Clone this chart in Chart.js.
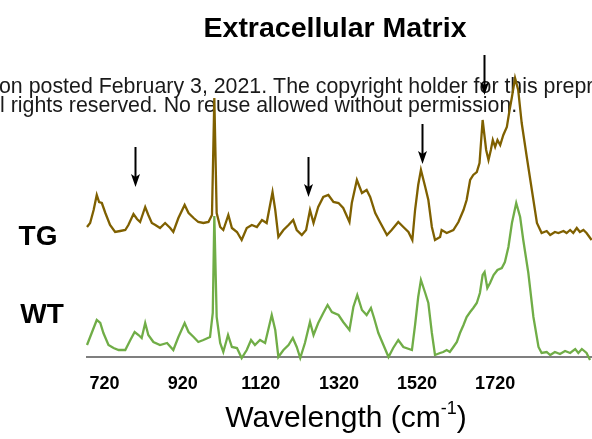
<!DOCTYPE html>
<html><head><meta charset="utf-8">
<script src="https://cdn.jsdelivr.net/npm/chart.js@4"></script>
<style>html,body{margin:0;padding:0;background:#fff}#wrap{width:592px;height:439px;position:relative}</style>
</head><body><div id="wrap"><canvas id="c" width="592" height="439"></canvas></div>
<script>
const chartTitle = "Extracellular Matrix";
const xAxisTitle = "Wavelength (cm";
const xAxisTitleSup = "-1";
const xAxisTitleEnd = ")";
const tickValues = [720, 920, 1120, 1320, 1520, 1720];
const seriesNames = ["TG", "WT"];
const watermarkLines = [
  "on posted February 3, 2021. The copyright holder for this preprint",
  "l rights reserved. No reuse allowed without permission."
];

const tgWavenumber = [675,683,692,700,706,713,722,734,747,760,773,781,794,803,811,824,832,841,850,862,875,888,896,909,925,935,948,960,973,986,995,1001,1007,1016,1024,1037,1046,1059,1071,1084,1097,1110,1123,1135,1150,1157,1165,1178,1191,1203,1212,1225,1236,1246,1255,1267,1280,1293,1306,1319,1331,1347,1353,1366,1379,1391,1400,1413,1425,1443,1455,1472,1485,1498,1508,1515,1523,1530,1541,1549,1558,1566,1579,1583,1596,1613,1626,1639,1647,1656,1664,1673,1680,1688,1697,1703,1709,1714,1720,1726,1733,1741,1750,1757,1763,1771,1779,1788,1801,1814,1827,1839,1852,1861,1873,1882,1895,1903,1912,1920,1929,1937,1946,1954,1967];
const tgIntensity = [130,134,147,162,155,154,144,132,125,126,127,132,143,138,135,150,142,134,132,129,134,129,125,139,152,144,139,135,134,135,142,259,144,130,127,142,129,125,117,129,132,130,137,134,165,147,120,127,132,137,127,122,127,147,134,150,160,162,155,154,149,135,154,177,164,167,160,144,135,122,127,135,130,125,117,147,172,187,170,157,130,117,120,127,124,127,135,147,157,177,182,185,194,237,207,197,207,217,210,217,212,222,230,247,260,279,267,234,200,167,134,124,126,122,125,124,126,124,127,124,129,125,127,124,117];

const wtWavenumber = [675,687,700,709,717,730,743,756,773,786,797,807,815,824,832,845,862,880,896,909,925,935,948,960,973,990,997,1001,1007,1016,1024,1036,1046,1059,1071,1084,1095,1105,1118,1131,1148,1157,1165,1178,1191,1202,1212,1221,1233,1246,1255,1267,1280,1291,1302,1319,1331,1347,1357,1367,1379,1391,1402,1410,1421,1434,1447,1459,1472,1485,1507,1515,1523,1530,1541,1549,1558,1566,1579,1587,1596,1604,1613,1622,1630,1639,1647,1656,1664,1673,1681,1688,1693,1700,1707,1716,1726,1737,1745,1754,1763,1774,1784,1792,1805,1818,1831,1839,1852,1861,1873,1886,1899,1912,1925,1933,1942,1954,1963];
const wtIntensity = [12,24,37,34,24,12,9,7,7,17,25,22,19,34,22,15,12,14,7,20,34,25,20,15,17,20,44,141,40,14,5,22,10,9,-1,7,17,12,17,14,42,27,0,7,12,19,10,-1,14,35,22,34,44,52,45,42,35,27,50,62,47,42,49,39,24,12,0,9,17,10,7,32,60,77,64,54,24,2,4,5,7,5,10,15,24,32,40,45,49,54,64,82,85,69,74,82,87,89,95,110,134,154,140,117,84,40,10,4,5,2,5,3,6,4,8,4,8,4,-3];

const arrowWavenumber = [798, 1242, 1532, 1692];
const arrowTipIntensity = [170, 160, 193, 262];
const arrowLength = 40;

const toPoints = (xs, ys) => xs.map((x, i) => ({x: x, y: ys[i]}));
const FAM = '"Liberation Sans", Arial, sans-serif';

const decorPlugin = {
  id: 'decor',
  beforeDatasetsDraw(chart) {
    const ctx = chart.ctx;
    ctx.save();
    ctx.fillStyle = '#1a1a1a';
    ctx.font = '21.35px ' + FAM;
    ctx.textBaseline = 'alphabetic';
    ctx.textAlign = 'left';
    ctx.fillText(watermarkLines[0], -1, 93);
    ctx.fillText(watermarkLines[1], 0, 112);
    ctx.restore();
  },
  afterDraw(chart) {
    const ctx = chart.ctx;
    const xs = chart.scales.x, ys = chart.scales.y;
    ctx.save();
    ctx.fillStyle = '#000';
    ctx.textAlign = 'center';
    ctx.textBaseline = 'middle';
    ctx.font = 'bold 28.5px ' + FAM;
    ctx.fillText(chartTitle, 335, 29);
    ctx.font = 'bold 28px ' + FAM;
    ctx.fillText(seriesNames[0], 38, 237);
    ctx.fillText(seriesNames[1], 42, 315);
    ctx.textAlign = 'left';
    ctx.textBaseline = 'alphabetic';
    const fMain = '30px ' + FAM;
    const fSup = '18px ' + FAM;
    ctx.font = fMain;
    const w1 = ctx.measureText(xAxisTitle).width;
    const w3 = ctx.measureText(xAxisTitleEnd).width;
    ctx.font = fSup;
    const w2 = ctx.measureText(xAxisTitleSup).width;
    const total = w1 + w2 + w3;
    const x0 = 346 - total / 2;
    const base = 427;
    ctx.font = fMain;
    ctx.fillText(xAxisTitle, x0, base);
    ctx.font = fSup;
    ctx.fillText(xAxisTitleSup, x0 + w1, base - 13);
    ctx.font = fMain;
    ctx.fillText(xAxisTitleEnd, x0 + w1 + w2, base);
    ctx.strokeStyle = '#000';
    ctx.fillStyle = '#000';
    ctx.lineWidth = 2;
    arrowWavenumber.forEach((w, i) => {
      const px = Math.round(xs.getPixelForValue(w)) + 0.5;
      const tip = ys.getPixelForValue(arrowTipIntensity[i]);
      const top = ys.getPixelForValue(arrowTipIntensity[i] + arrowLength);
      ctx.beginPath();
      ctx.moveTo(px, top);
      ctx.lineTo(px, tip - 8);
      ctx.stroke();
      ctx.beginPath();
      ctx.moveTo(px, tip);
      ctx.lineTo(px - 4.5, tip - 13);
      ctx.lineTo(px, tip - 10);
      ctx.lineTo(px + 4.5, tip - 13);
      ctx.closePath();
      ctx.fill();
    });
    ctx.restore();
  }
};

new Chart(document.getElementById('c'), {
  type: 'line',
  data: {
    datasets: [
      {label: seriesNames[0], data: toPoints(tgWavenumber, tgIntensity), borderColor: '#7f6000', borderWidth: 2.3, pointRadius: 0, tension: 0, clip: false},
      {label: seriesNames[1], data: toPoints(wtWavenumber, wtIntensity), borderColor: '#70ad47', borderWidth: 2.3, pointRadius: 0, tension: 0, clip: false}
    ]
  },
  options: {
    responsive: false,
    animation: false,
    layout: {padding: {left: 87, right: 0, top: 0, bottom: 0}},
    plugins: {legend: {display: false}, tooltip: {enabled: false}, title: {display: false}},
    scales: {
      x: {
        type: 'linear', min: 675, max: 1968,
        afterBuildTicks: (s) => { s.ticks = tickValues.map(v => ({value: v})); },
        afterFit: (s) => { s.height = 82; },
        grid: {display: false, drawTicks: false},
        border: {display: true, color: '#7f7f7f', width: 2},
        ticks: {color: '#000', padding: 16, maxRotation: 0, autoSkip: false,
          font: {family: FAM, size: 18, weight: 'bold'},
          callback: (v) => String(v)}
      },
      y: {type: 'linear', min: 0, max: 357, display: false}
    }
  },
  plugins: [decorPlugin]
});
</script></body></html>
